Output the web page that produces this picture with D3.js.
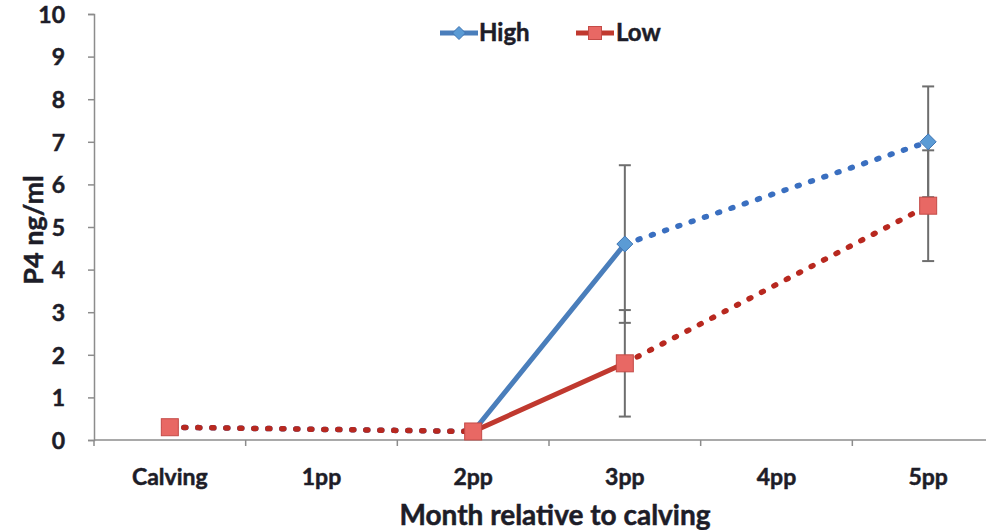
<!DOCTYPE html>
<html>
<head>
<meta charset="utf-8">
<script src="https://cdn.jsdelivr.net/npm/d3@7"></script>
<style>
  html, body { margin: 0; padding: 0; background: #fff; }
  svg { display: block; }
  text { font-family: Lato, "Open Sans", sans-serif; font-weight: 700; fill: #1d1d28; stroke: #1d1d28; stroke-width: 0.5px; }
</style>
</head>
<body>
<svg id="chart" width="986" height="530"></svg>
<script>
const categories = ["Calving", "1pp", "2pp", "3pp", "4pp", "5pp"];
const highValues = [0.3, null, 0.2, 4.6, null, 7.0];
const lowValues  = [0.3, null, 0.2, 1.8, null, 5.5];
const highErr    = [0.05, null, 0.05, 1.85, null, 1.3];
const lowErr     = [0.05, null, 0.05, 1.25, null, 1.3];
const yTicks = [0, 1, 2, 3, 4, 5, 6, 7, 8, 9, 10];
const seriesNames = ["High", "Low"];

(function () {
const svg = d3.select("#chart");
const plotLeft = 94, plotRight = 1004, plotTop = 14, plotBottom = 440;

const x = d3.scaleBand().domain(categories).range([plotLeft, plotRight]).paddingInner(0).paddingOuter(0);
const cx = c => x(c) + x.bandwidth() / 2;
const y = d3.scaleLinear().domain([0, 10]).range([plotBottom, plotTop]);

const axisColor = "#8c8c8c";

// Y axis
const yAxis = svg.append("g").attr("transform", `translate(${plotLeft},0)`)
  .call(d3.axisLeft(y).tickValues(yTicks).tickSize(6).tickPadding(23).tickFormat(d3.format("d")));
yAxis.select(".domain").attr("stroke", axisColor).attr("stroke-width", 1.5);
yAxis.selectAll(".tick line").attr("stroke", axisColor).attr("stroke-width", 1.5);
yAxis.selectAll(".tick text").attr("font-size", 23).attr("font-family", "Lato, sans-serif")
  .attr("font-weight", 700).attr("fill", "#1d1d28").attr("dy", "0.36em");

// X axis
const boundaries = d3.range(categories.length + 1).map(i => plotLeft + i * x.bandwidth());
const xAxisG = svg.append("g");
xAxisG.append("line").attr("x1", plotLeft).attr("x2", plotRight).attr("y1", plotBottom).attr("y2", plotBottom)
  .attr("stroke", axisColor).attr("stroke-width", 1.5);
xAxisG.selectAll("line.tk").data(boundaries).join("line").attr("class", "tk")
  .attr("x1", d => d).attr("x2", d => d).attr("y1", plotBottom).attr("y2", plotBottom + 6)
  .attr("stroke", axisColor).attr("stroke-width", 1.5);
xAxisG.selectAll("text").data(categories).join("text")
  .attr("x", d => cx(d)).attr("y", 485).attr("text-anchor", "middle")
  .attr("font-size", 23).text(d => d);

// Axis titles
svg.append("text").attr("x", 555).attr("y", 525).attr("text-anchor", "middle")
  .attr("font-size", 28).text("Month relative to calving");
svg.append("text").attr("transform", "translate(43,230) rotate(-90)").attr("text-anchor", "middle")
  .attr("font-size", 27).text("P4 ng/ml");

// Series
const series = [
  { name: seriesNames[0], values: highValues, err: highErr, color: "#4a7ebb", dot: "#3a6fc0", fill: "#5b9bd5", stroke: "#3f74b3", marker: "diamond" },
  { name: seriesNames[1], values: lowValues, err: lowErr, color: "#c0392f", dot: "#b8281f", fill: "#e86864", stroke: "#c44b47", marker: "square" }
];

function segments(vals) {
  const pts = [];
  vals.forEach((v, i) => { if (v !== null) pts.push(i); });
  const segs = [];
  for (let k = 0; k < pts.length - 1; k++) {
    const a = pts[k], b = pts[k + 1];
    segs.push({ a, b, dotted: b - a > 1 });
  }
  return segs;
}

const lineG = svg.append("g");
series.forEach(s => {
  segments(s.values).forEach(seg => {
    const l = lineG.append("line")
      .attr("x1", cx(categories[seg.a])).attr("y1", y(s.values[seg.a]))
      .attr("x2", cx(categories[seg.b])).attr("y2", y(s.values[seg.b]));
    if (seg.dotted) {
      l.attr("stroke", s.dot).attr("stroke-width", 5.5).attr("stroke-dasharray", "2 12").attr("stroke-linecap", "round");
    } else {
      l.attr("stroke", s.color).attr("stroke-width", 5).attr("stroke-linecap", "round");
    }
  });
});

// Error bars
const errG = svg.append("g");
series.forEach(s => {
  s.values.forEach((v, i) => {
    if (v === null) return;
    const e = s.err[i];
    const px = cx(categories[i]);
    errG.append("line").attr("x1", px).attr("x2", px).attr("y1", y(v - e)).attr("y2", y(v + e))
      .attr("stroke", "#6e6e6e").attr("stroke-width", 2);
    [v - e, v + e].forEach(ev => {
      errG.append("line").attr("x1", px - 6).attr("x2", px + 6).attr("y1", y(ev)).attr("y2", y(ev))
        .attr("stroke", "#6e6e6e").attr("stroke-width", 2);
    });
  });
});

// Markers
function drawMarker(g, type, px, py, s, big) {
  if (type === "diamond") {
    const r = big ? 8 : 6.5;
    g.append("path").attr("d", `M${px},${py - r}L${px + r},${py}L${px},${py + r}L${px - r},${py}Z`)
      .attr("fill", s.fill).attr("stroke", s.stroke).attr("stroke-width", 1);
  } else {
    const h = big ? 8.5 : 6.5;
    g.append("rect").attr("x", px - h).attr("y", py - h).attr("width", 2 * h).attr("height", 2 * h)
      .attr("fill", s.fill).attr("stroke", s.stroke).attr("stroke-width", 1);
  }
}
const markG = svg.append("g");
series.forEach(s => {
  s.values.forEach((v, i) => {
    if (v === null) return;
    drawMarker(markG, s.marker, cx(categories[i]), y(v), s, true);
  });
});

// Legend
const legendItems = [{ s: series[0], x0: 440, tx: 479 }, { s: series[1], x0: 576, tx: 616 }];
const legG = svg.append("g");
legendItems.forEach(it => {
  legG.append("line").attr("x1", it.x0).attr("x2", it.x0 + 38).attr("y1", 33).attr("y2", 33)
    .attr("stroke", it.s.color).attr("stroke-width", 5);
  drawMarker(legG, it.s.marker, it.x0 + 19, 33, it.s, false);
  legG.append("text").attr("x", it.tx).attr("y", 41).attr("font-size", 24).text(it.s.name);
});
})();
</script>
</body>
</html>
